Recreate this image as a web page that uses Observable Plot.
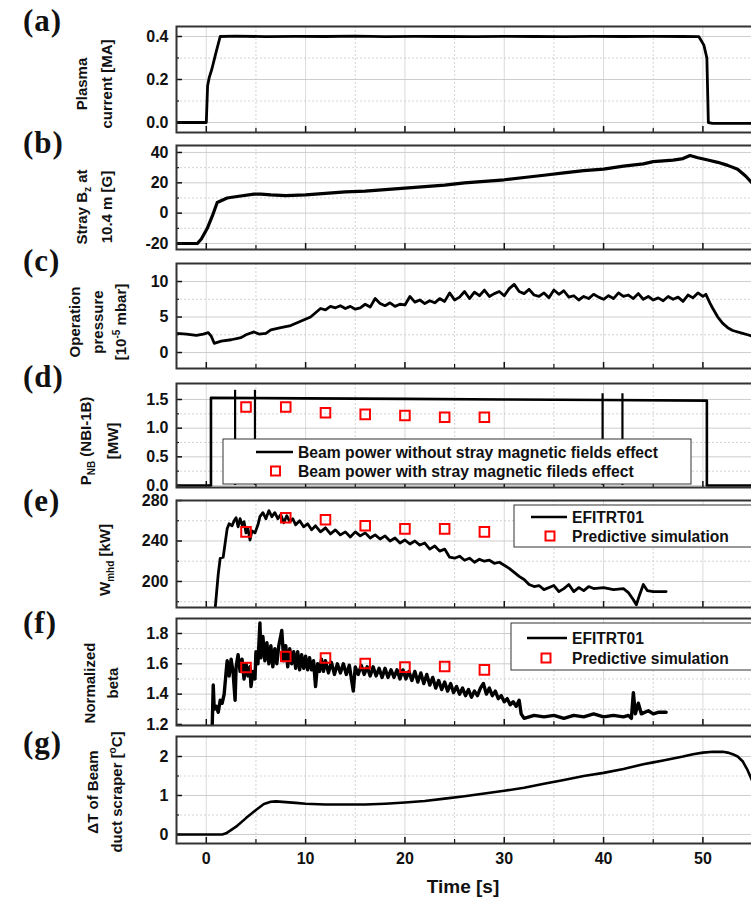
<!DOCTYPE html>
<html><head><meta charset="utf-8">
<script src="https://cdn.jsdelivr.net/npm/d3@7"></script>
<script src="https://cdn.jsdelivr.net/npm/@observablehq/plot@0.6"></script>
<style>
body{margin:0;background:#fff;}
#chart{position:relative;width:751px;height:900px;overflow:hidden;background:#fff;}
</style></head><body><div id="chart"></div>
<script>
// ---------------- data ----------------
const timeTicks = [0, 10, 20, 30, 40, 50];
const timeTickLabels = ["0", "10", "20", "30", "40", "50"];
const timeMinor = [5, 15, 25, 35, 45];

// (a) plasma current [MA]
const ipT = [-3, 0.0, 0.13, 0.3, 0.57, 1.0, 1.4, 3, 6, 9, 12, 15, 18, 21, 24, 27, 30, 33, 36, 39, 42, 45, 48, 49.6, 50.1, 50.4, 50.55, 51, 55.8];
const ipV = [0, 0, 0.17, 0.21, 0.25, 0.33, 0.40, 0.402, 0.399, 0.401, 0.400, 0.402, 0.399, 0.401, 0.400, 0.399, 0.401, 0.400, 0.399, 0.401, 0.400, 0.401, 0.400, 0.399, 0.36, 0.30, 0.0, -0.004, -0.004];
const ipTicks = [0, 0.2, 0.4], ipTickLabels = ["0.0", "0.2", "0.4"], ipMinor = [0.1, 0.3];

// (b) stray Bz [G]
const bzT = [-3, -0.9, -0.5, 0.1, 0.6, 1.1, 2.1, 3.1, 4.8, 5.5, 6.5, 8, 10, 12, 14, 16, 18, 20, 22, 24, 26, 28, 30, 32, 34, 36, 38, 40, 42, 44, 45, 47, 48, 48.7, 49.5, 50.5, 51.5, 52.5, 53.5, 54.3, 55, 55.8];
const bzV = [-20, -20, -17, -10, -2, 7, 10, 11, 12.5, 12.5, 12, 11.5, 12, 13, 14, 14.5, 15.5, 16.5, 17.5, 18.5, 20, 21, 22, 23.5, 25, 26.5, 28, 29, 31, 32.5, 34, 35, 36, 38, 36.5, 35, 33.5, 31.5, 29, 24.5, 19.5, 14];
const bzTicks = [-20, 0, 20, 40], bzTickLabels = ["-20", "0", "20", "40"], bzMinor = [-10, 10, 30];

// (c) operation pressure [1e-5 mbar]
const pT = [-3,-2,-1,-0.3,0.2,0.5,0.8,1.5,2.5,3.5,4,4.8,5.3,6,6.5,7.5,8.5,9.5,10.5,11,11.5,12,12.5,13,13.5,14,14.5,15,15.5,16,16.5,17,17.5,18,18.5,19,19.5,20,20.5,21,21.5,22,22.5,23,23.5,24,24.5,25,25.5,26,26.5,27,27.5,28,28.5,29,29.5,30,30.5,31,31.5,32,32.5,33,33.5,34,34.5,35,35.5,36,36.5,37,37.5,38,38.5,39,39.5,40,40.5,41,41.5,42,42.5,43,43.5,44,44.5,45,45.5,46,46.5,47,47.5,48,48.5,49,49.5,50,50.3,50.7,51,51.5,52,52.5,53,54,54.5,55.8];
const pV = [2.7,2.6,2.4,2.6,2.8,2.3,1.3,1.6,1.8,2.1,2.5,2.9,2.6,2.7,3.2,3.5,3.8,4.4,5.0,5.6,6.2,6.0,6.5,6.3,6.6,6.2,6.5,6.1,6.3,6.8,6.4,7.6,6.9,6.6,7.0,6.5,6.8,6.7,7.9,7.1,7.4,6.9,7.3,7.0,7.6,7.2,8.4,7.4,7.8,8.6,7.6,8.5,8.0,8.8,7.9,8.3,8.6,8.0,9.0,9.6,8.6,8.3,8.9,8.1,7.9,8.4,7.7,8.8,8.2,8.7,7.8,8.0,7.4,7.9,7.6,8.2,7.8,7.5,8.0,7.6,8.4,7.9,8.1,7.6,8.3,7.5,7.9,7.4,7.7,7.3,7.9,7.5,7.8,7.2,8.1,7.7,8.4,7.9,8.2,7.0,6.2,5.0,4.1,3.5,3.1,2.7,2.5,2.0];
const pTicks = [0, 5, 10], pTickLabels = ["0", "5", "10"], pMinor = [2.5, 7.5];

// (d) NB power [MW]
const pnbT = [-3, 0.47, 0.47, 10, 20, 30, 40, 50.4, 50.4, 55.8];
const pnbV = [0, 0, 1.53, 1.52, 1.51, 1.50, 1.49, 1.48, 0, 0];
const spikeT = [2.9, 4.9, 39.9, 41.9];
const spikeTop = [1.66, 1.66, 1.6, 1.6];
const pnbTicks = [0, 0.5, 1.0, 1.5], pnbTickLabels = ["0.0", "0.5", "1.0", "1.5"], pnbMinor = [0.25, 0.75, 1.25];

// predictive simulation times
const simT = [4, 8, 12, 16, 20, 24, 28];
const pnbSim = [1.37, 1.37, 1.27, 1.24, 1.22, 1.19, 1.19];
const wSim = [249, 263, 261, 255, 252, 252, 249];
const betaSim = [1.576, 1.648, 1.638, 1.602, 1.578, 1.582, 1.56];

// (e) W_mhd [kW]
const wT = [0.9,1.2,1.4,1.7,2.0,2.1,2.3,2.6,2.8,3.0,3.2,3.4,3.6,3.8,4.0,4.2,4.4,4.6,4.9,5.2,5.4,5.7,6.0,6.3,6.6,6.9,7.2,7.5,7.8,8.1,8.4,8.7,9.0,9.4,9.8,10.2,10.6,11,11.5,12,12.5,13,13.5,14,14.5,15,15.5,16,16.5,17,17.5,18,18.5,19,19.5,20,20.5,21,21.5,22,22.5,23,23.5,24,24.5,25,25.5,26,26.5,27,27.5,28,28.5,29,29.5,30,30.5,31,31.5,32,32.5,33,33.5,34,35,35.5,36,36.5,37,37.5,38,38.5,39,40,41,42,42.5,43,43.3,43.6,44,44.4,45,46.3];
const wV = [174,207,223,224,245,252,257,255,260,263,254,262,256,259,248,252,241,250,248,256,264,268,262,270,264,268,262,266,258,265,259,262,256,260,254,257,251,255,249,253,247,251,246,249,244,249,245,248,243,246,242,245,240,243,238,241,237,240,236,238,232,235,230,232,224,223,225,221,223,219,222,220,221,218,219,216,213,209,205,202,197,195,196,192,196,190,193,197,190,194,191,195,193,194,192,193,189,182,177,186,197,191,190,190];
const wTicks = [200, 240, 280], wTickLabels = ["200", "240", "280"], wMinor = [180, 220, 260];

// (f) normalized beta
const betaT = [0.6,0.7,0.8,1.0,1.2,1.4,1.6,1.8,2.0,2.1,2.3,2.5,2.7,2.9,3.0,3.2,3.4,3.6,3.8,4.0,4.2,4.4,4.5,4.7,4.9,5.0,5.2,5.4,5.5,5.7,5.9,6.1,6.3,6.5,6.7,6.9,7.1,7.3,7.6,7.8,8.0,8.2,8.4,8.6,8.8,9.0,9.2,9.4,9.6,9.8,10.0,10.2,10.4,10.6,10.8,11.0,11.2,11.4,11.6,11.8,12.0,12.3,12.6,12.9,13.2,13.5,13.8,14.1,14.4,14.8,15.0,15.3,15.6,15.9,16.2,16.5,16.8,17.1,17.4,17.7,18.0,18.3,18.6,18.9,19.2,19.5,19.8,20.1,20.4,20.7,21.0,21.3,21.6,21.9,22.2,22.5,22.8,23.1,23.4,23.7,24.0,24.3,24.6,24.9,25.2,25.5,25.8,26.1,26.4,26.7,27.0,27.3,27.6,27.9,28.2,28.5,28.8,29.1,29.4,29.7,30.0,30.3,30.6,30.9,31.2,31.5,31.7,32.0,33,34,35,36,37,38,39,40,41,42,42.5,42.8,43.0,43.2,43.5,43.8,44.5,45,45.5,46.3];
const betaV = [1.2,1.46,1.30,1.32,1.28,1.36,1.34,1.40,1.55,1.62,1.52,1.63,1.54,1.36,1.58,1.66,1.55,1.63,1.50,1.60,1.52,1.58,1.45,1.55,1.50,1.68,1.60,1.87,1.64,1.78,1.62,1.74,1.60,1.72,1.58,1.70,1.60,1.72,1.82,1.62,1.72,1.58,1.70,1.60,1.68,1.57,1.68,1.56,1.66,1.57,1.65,1.56,1.64,1.56,1.62,1.45,1.60,1.55,1.63,1.55,1.62,1.54,1.61,1.53,1.60,1.54,1.60,1.53,1.59,1.42,1.58,1.53,1.59,1.53,1.58,1.52,1.58,1.52,1.57,1.51,1.57,1.51,1.56,1.51,1.56,1.50,1.56,1.50,1.55,1.49,1.55,1.48,1.54,1.47,1.53,1.46,1.51,1.44,1.49,1.43,1.48,1.42,1.47,1.41,1.45,1.40,1.44,1.39,1.43,1.38,1.42,1.39,1.44,1.47,1.40,1.44,1.39,1.42,1.37,1.39,1.35,1.37,1.33,1.35,1.32,1.36,1.27,1.24,1.26,1.25,1.26,1.24,1.26,1.25,1.27,1.25,1.26,1.25,1.26,1.24,1.41,1.27,1.34,1.27,1.29,1.27,1.28,1.28];
const betaTicks = [1.2, 1.4, 1.6, 1.8], betaTickLabels = ["1.2", "1.4", "1.6", "1.8"], betaMinor = [1.3, 1.5, 1.7];

// (g) delta T of beam duct scraper [C]
const gT = [-3, 1.6, 2.0, 3, 4, 5, 5.8, 6.5, 7, 8, 9, 10, 12, 14, 16, 18, 20, 22, 24, 26, 28, 30, 32, 34, 36, 38, 40, 42, 44, 45, 46, 47, 48, 49, 50, 51, 52, 52.5, 53, 53.5, 54, 54.5, 55, 55.8];
const gV = [0, 0, 0.03, 0.2, 0.42, 0.63, 0.78, 0.84, 0.85, 0.83, 0.81, 0.79, 0.77, 0.77, 0.77, 0.79, 0.82, 0.86, 0.92, 0.98, 1.05, 1.12, 1.2, 1.3, 1.4, 1.5, 1.58, 1.68, 1.8, 1.85, 1.9, 1.95, 2.0, 2.06, 2.1, 2.12, 2.12, 2.1, 2.06, 2.0, 1.88, 1.65, 1.36, 1.0];
const gTicks = [0, 1, 2], gTickLabels = ["0", "1", "2"], gMinor = [0.5, 1.5];

// texts
const panelLetters = ["(a)", "(b)", "(c)", "(d)", "(e)", "(f)", "(g)"];
const yTitles = [
  ["Plasma", "current [MA]"],
  ["Stray B_{z} at", "10.4 m [G]"],
  ["Operation", "pressure", "[10^{-5} mbar]"],
  ["P_{NB} (NBI-1B)", "[MW]"],
  ["W_{mhd} [kW]"],
  ["Normalized", "beta"],
  ["\u0394T of Beam", "duct scraper [^{o}C]"]
];
const xTitle = "Time [s]";
const legendD = ["Beam power without stray magnetic fields effect", "Beam power with stray magnetic fileds effect"];
const legendEF = ["EFITRT01", "Predictive simulation"];

// ---------------- drawing ----------------
const rows = (ts, vs) => ts.slice(0, Math.min(ts.length, vs.length)).map((t, i) => ({t, v: vs[i]}));
const xDomain = [-3, 55.8];
const RED = "#ff0000";
const sq = (vals) => Plot.dot(rows(simT, vals), {x: "t", y: "v", symbol: "square", r: 5.4, stroke: RED, strokeWidth: 2, fill: "none"});
const line = (ts, vs, w) => Plot.line(rows(ts, vs), {x: "t", y: "v", stroke: "#000", strokeWidth: w, clip: true});
const blank = () => "";

const panels = [
  {top: 26, h: 106, dom: [-0.0465, 0.4465], major: ipTicks, labels: ipTickLabels, minor: ipMinor,
   marks: [line(ipT, ipV, 2.8)]},
  {top: 145, h: 104, dom: [-23.96, 44.6], major: bzTicks, labels: bzTickLabels, minor: bzMinor,
   marks: [line(bzT, bzV, 3.2)]},
  {top: 263, h: 105, dom: [-2.25, 12.54], major: pTicks, labels: pTickLabels, minor: pMinor,
   marks: [line(pT, pV, 2.8)]},
  {top: 383, h: 104, dom: [-0.035, 1.779], major: pnbTicks, labels: pnbTickLabels, minor: pnbMinor,
   marks: [line(pnbT, pnbV, 2.6),
           Plot.ruleX(rows(spikeT, spikeTop), {x: "t", y1: 0, y2: "v", stroke: "#000", strokeWidth: 2.2}),
           sq(pnbSim)]},
  {top: 500, h: 107, dom: [174.3, 280], major: wTicks, labels: wTickLabels, minor: wMinor,
   marks: [line(wT, wV, 2.8), sq(wSim)]},
  {top: 618, h: 107, dom: [1.193, 1.899], major: betaTicks, labels: betaTickLabels, minor: betaMinor,
   marks: [line(betaT, betaV, 3.4), sq(betaSim)]},
  {top: 736, h: 107, dom: [-0.231, 2.513], major: gTicks, labels: gTickLabels, minor: gMinor, xLabels: true,
   marks: [line(gT, gV, 2.6)]}
];

const chart = document.getElementById("chart");
const FONT = "'Liberation Sans', Arial, Helvetica, sans-serif";

for (const p of panels) {
  const padT = 12, padB = p.xLabels ? 50 : 12;
  const svg = Plot.plot({
    width: 760, height: p.h + padT + padB,
    marginLeft: 176, marginRight: 0, marginTop: padT, marginBottom: padB,
    x: {domain: xDomain},
    y: {domain: p.dom},
    style: {fontFamily: FONT, fontSize: "16px", fontWeight: "bold", color: "#111",
            background: "transparent", overflow: "visible", maxWidth: "none"},
    marks: [
      Plot.ruleX(timeMinor, {stroke: "#c8c8c8", strokeWidth: 0.8, strokeDasharray: "2,2"}),
      Plot.ruleX(timeTicks, {stroke: "#d0d0d0", strokeWidth: 0.8}),
      Plot.ruleY(p.minor, {stroke: "#c8c8c8", strokeWidth: 0.8, strokeDasharray: "2,2"}),
      Plot.ruleY(p.major, {stroke: "#c8c8c8", strokeWidth: 0.9}),
      ...p.marks,
      Plot.axisY(p.major, {tickSize: 0, tickPadding: 8, label: null,
                           tickFormat: d => p.labels[p.major.indexOf(d)]}),
      Plot.axisY(p.major, {tickSize: 6, dx: 6, tickFormat: blank, label: null, strokeWidth: 1.5}),
      Plot.axisY(p.minor, {tickSize: 3, dx: 3, tickFormat: blank, label: null, strokeWidth: 1.2}),
      Plot.axisX(timeTicks, {tickSize: 6, dy: -6, tickFormat: blank, label: null, strokeWidth: 1.5}),
      Plot.axisX(timeMinor, {tickSize: 4, dy: -4, tickFormat: blank, label: null, strokeWidth: 1.2}),
      p.xLabels ? Plot.axisX(timeTicks, {tickSize: 0, tickPadding: 9, label: null,
                           tickFormat: d => timeTickLabels[timeTicks.indexOf(d)]}) : null,
      Plot.frame({stroke: "#333", strokeWidth: 2})
    ]
  });
  svg.style.position = "absolute";
  svg.style.left = "0px";
  svg.style.top = (p.top - padT) + "px";
  chart.appendChild(svg);
}

// overlay: panel letters, y titles, legends, x title
const esc = s => s.replace(/&/g, "&amp;").replace(/</g, "&lt;");
function rich(str, small) {
  const re = /([_^])\{([^}]*)\}/g;
  let out = "", last = 0, shift = 0, m;
  const push = (txt, ns, size) => {
    if (!txt) return;
    const dy = ns - shift; shift = ns;
    out += `<tspan dy="${dy}"${size ? ` font-size="${size}"` : ""}>${esc(txt)}</tspan>`;
  };
  while ((m = re.exec(str))) {
    push(str.slice(last, m.index), 0);
    push(m[2], m[1] === "_" ? 4 : -6, small);
    last = re.lastIndex;
  }
  push(str.slice(last), 0);
  return out;
}

const letterPos = [[23, 31], [23, 153], [23, 271], [23, 387], [23, 511], [23, 633], [23, 753]];
const titlePos = [
  {xs: [87, 112], y: 84},
  {xs: [87, 112], y: 207},
  {xs: [80, 103, 126], y: 322},
  {xs: [91, 118], y: 441},
  {xs: [110], y: 560},
  {xs: [95, 118], y: 683},
  {xs: [98, 122], y: 792}
];

let o = `<svg xmlns="http://www.w3.org/2000/svg" width="751" height="900" style="position:absolute;left:0;top:0;overflow:visible" font-family="${FONT}" font-weight="bold" fill="#111">`;
panelLetters.forEach((L, i) => {
  o += `<text x="${letterPos[i][0]}" y="${letterPos[i][1]}" font-family="'Liberation Serif','Times New Roman',serif" font-size="31" letter-spacing="1">${esc(L)}</text>`;
});
yTitles.forEach((lines, i) => {
  lines.forEach((ln, j) => {
    o += `<text transform="translate(${titlePos[i].xs[j]},${titlePos[i].y}) rotate(-90)" text-anchor="middle" font-size="15"><tspan dy="5">${rich(ln, 10)}</tspan></text>`;
  });
});
// legend (d)
o += `<rect x="223" y="439" width="468" height="45" fill="#fff" stroke="#333" stroke-width="1"/>`;
o += `<line x1="256" x2="293" y1="452" y2="452" stroke="#000" stroke-width="2.5"/>`;
o += `<text x="298" y="457.5" font-size="15.7">${esc(legendD[0])}</text>`;
o += `<rect x="271" y="466.5" width="9" height="9" fill="none" stroke="${RED}" stroke-width="2"/>`;
o += `<text x="298" y="476.5" font-size="15.7">${esc(legendD[1])}</text>`;
// legend (e)
o += `<rect x="514" y="505" width="245" height="42" fill="#fff" stroke="#333" stroke-width="1"/>`;
o += `<line x1="531" x2="567" y1="517" y2="517" stroke="#000" stroke-width="2.5"/>`;
o += `<text x="572" y="522.5" font-size="15.6">${esc(legendEF[0])}</text>`;
o += `<rect x="545.5" y="531.5" width="9" height="9" fill="none" stroke="${RED}" stroke-width="2"/>`;
o += `<text x="572" y="541.5" font-size="15.6">${esc(legendEF[1])}</text>`;
// legend (f)
o += `<rect x="511" y="623" width="248" height="47" fill="#fff" stroke="#333" stroke-width="1"/>`;
o += `<line x1="527" x2="567" y1="638" y2="638" stroke="#000" stroke-width="2.5"/>`;
o += `<text x="572" y="643.5" font-size="15.6">${esc(legendEF[0])}</text>`;
o += `<rect x="541.5" y="653.5" width="9" height="9" fill="none" stroke="${RED}" stroke-width="2"/>`;
o += `<text x="572" y="663.5" font-size="15.6">${esc(legendEF[1])}</text>`;
// x title
o += `<text x="463" y="893" text-anchor="middle" font-size="19">${esc(xTitle)}</text>`;
o += `</svg>`;
const ov = document.createElement("div");
ov.innerHTML = o;
chart.appendChild(ov.firstChild);
</script>
</body></html>
